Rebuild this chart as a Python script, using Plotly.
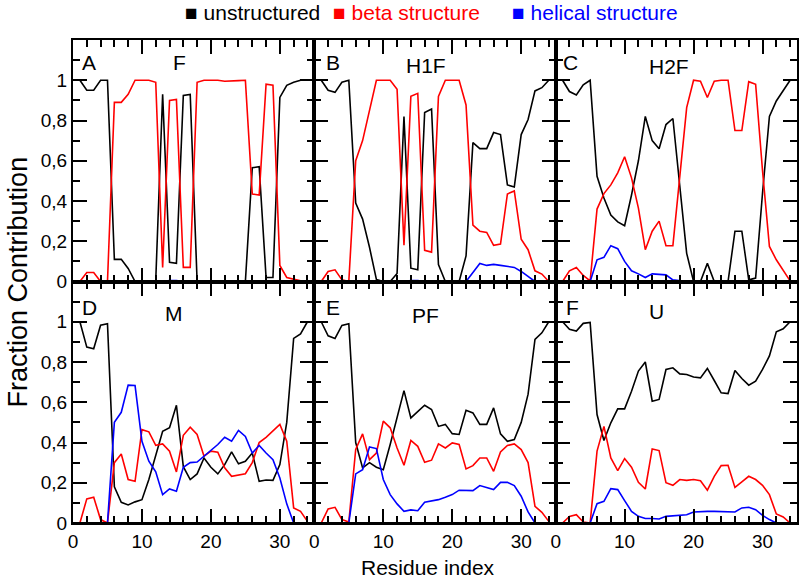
import plotly.graph_objects as go
from plotly.subplots import make_subplots

residues = list(range(1, 35))

panel_letters = ["A", "B", "C", "D", "E", "F"]
panel_titles = ["F", "H1F", "H2F", "M", "PF", "U"]
series_names = ["unstructured", "beta structure", "helical structure"]
series_colors = ["#000000", "#ff0000", "#0000ff"]

y_tickvals = [0, 0.2, 0.4, 0.6, 0.8, 1.0]
y_ticktext = ["0", "0,2", "0,4", "0,6", "0,8", "1"]
x_tickvals = [0, 10, 20, 30]
x_ticktext = ["0", "10", "20", "30"]

# Panel A : F
F_unstructured = [1.0, 0.95, 0.95, 1.0, 1.0, 0.11, 0.11, 0.065, 0.0, 0.0, 0.0, 0.005, 0.93, 0.095, 0.09, 0.925, 0.93,
                  0.0, 0.0, 0.0, 0.003, 0.0, 0.0, 0.0, 0.0, 0.565, 0.57, 0.02, 0.02, 0.915, 0.975, 0.99, 1.0, 1.0]
F_beta = [0.0, 0.045, 0.045, 0.0, 0.0, 0.89, 0.89, 0.93, 1.0, 1.0, 1.0, 0.99, 0.07, 0.90, 0.905, 0.07, 0.07,
          0.99, 1.0, 1.0, 1.0, 0.995, 0.998, 0.998, 1.0, 0.435, 0.43, 0.98, 0.975, 0.08, 0.02, 0.013, 0.003, 0.0]
F_helical = [0, 0, 0, 0, 0, 0, 0, 0, 0, 0, 0, 0, 0, 0.005, 0.005, 0, 0,
             0, 0, 0, 0, 0, 0, 0, 0, 0, 0, 0, 0, 0, 0, 0, 0, 0]

# Panel B : H1F
H1F_unstructured = [1.0, 0.95, 0.94, 0.99, 1.0, 0.39, 0.31, 0.17, 0.01, 0.0, 0.0, 0.04, 0.82, 0.066, 0.058, 0.84, 0.857,
                    0.084, 0.0, 0.0, 0.0, 0.127, 0.69, 0.66, 0.66, 0.74, 0.73, 0.48, 0.47, 0.73, 0.805, 0.947, 0.963, 1.0]
H1F_beta = [0.0, 0.05, 0.058, 0.008, 0.0, 0.6, 0.70, 0.855, 1.0, 1.0, 1.0, 0.955, 0.18, 0.92, 0.935, 0.155, 0.146,
            0.92, 1.0, 1.0, 1.0, 0.877, 0.28, 0.25, 0.244, 0.18, 0.186, 0.435, 0.45, 0.21, 0.158, 0.053, 0.037, 0.0]
H1F_helical = [0, 0, 0, 0, 0, 0, 0, 0, 0, 0, 0, 0, 0, 0.005, 0.005, 0, 0,
               0, 0, 0, 0, 0, 0.045, 0.09, 0.08, 0.085, 0.08, 0.076, 0.07, 0.05, 0.025, 0, 0, 0]

# Panel C : H2F
H2F_unstructured = [1.0, 0.944, 0.927, 0.977, 1.0, 0.523, 0.415, 0.33, 0.296, 0.277, 0.43, 0.60, 0.82, 0.70, 0.66, 0.78, 0.81,
                    0.48, 0.14, 0.0, 0.0, 0.09, 0.0, 0.0, 0.0, 0.25, 0.25, 0.008, 0.017, 0.44, 0.82, 0.897, 0.947, 1.0]
H2F_beta = [0.0, 0.053, 0.07, 0.03, 0.003, 0.36, 0.437, 0.48, 0.54, 0.62, 0.515, 0.365, 0.158, 0.25, 0.3, 0.178, 0.178,
            0.52, 0.864, 1.0, 0.995, 0.914, 0.995, 1.0, 1.0, 0.75, 0.75, 0.993, 0.98, 0.55, 0.174, 0.108, 0.053, 0.003]
H2F_helical = [0, 0, 0, 0, 0, 0.108, 0.12, 0.178, 0.163, 0.1, 0.053, 0.038, 0.02, 0.038, 0.037, 0.033, 0.008,
               0.003, 0, 0, 0, 0, 0.003, 0.003, 0.003, 0, 0, 0, 0, 0, 0, 0, 0, 0]

# Panel D : M
M_unstructured = [1.0, 0.874, 0.866, 0.983, 0.99, 0.18, 0.103, 0.09, 0.105, 0.116, 0.216, 0.34, 0.456, 0.473, 0.585, 0.28, 0.216,
                  0.244, 0.323, 0.277, 0.244, 0.29, 0.353, 0.294, 0.307, 0.348, 0.207, 0.214, 0.212, 0.29, 0.5, 0.917, 0.94, 1.0]
M_beta = [0.0, 0.12, 0.128, 0.017, 0.0, 0.3, 0.343, 0.216, 0.207, 0.464, 0.453, 0.386, 0.393, 0.357, 0.254, 0.436, 0.476,
          0.44, 0.332, 0.357, 0.352, 0.274, 0.232, 0.24, 0.245, 0.3, 0.4, 0.426, 0.456, 0.49, 0.406, 0.075, 0.058, 0.008]
M_helical = [0, 0, 0, 0, 0, 0.5, 0.55, 0.685, 0.683, 0.406, 0.307, 0.254, 0.141, 0.169, 0.158, 0.277, 0.3,
             0.303, 0.332, 0.357, 0.39, 0.426, 0.406, 0.46, 0.43, 0.348, 0.385, 0.348, 0.315, 0.224, 0.095, 0, 0, 0]

# Panel E : PF
PF_unstructured = [1.0, 0.93, 0.917, 0.982, 0.99, 0.4, 0.274, 0.3, 0.277, 0.265, 0.39, 0.53, 0.658, 0.522, 0.556, 0.585, 0.564,
                   0.48, 0.49, 0.444, 0.44, 0.56, 0.547, 0.49, 0.49, 0.572, 0.443, 0.406, 0.415, 0.5, 0.64, 0.912, 0.945, 1.0]
PF_beta = [0.0, 0.07, 0.078, 0.017, 0.005, 0.365, 0.443, 0.315, 0.348, 0.506, 0.473, 0.373, 0.287, 0.41, 0.381, 0.302, 0.312,
           0.393, 0.373, 0.398, 0.39, 0.269, 0.285, 0.323, 0.323, 0.257, 0.353, 0.385, 0.393, 0.365, 0.3, 0.083, 0.053, 0.008]
PF_helical = [0, 0, 0, 0, 0, 0.244, 0.265, 0.378, 0.37, 0.216, 0.141, 0.095, 0.058, 0.065, 0.061, 0.103, 0.108,
              0.116, 0.128, 0.141, 0.163, 0.163, 0.161, 0.186, 0.177, 0.166, 0.202, 0.202, 0.186, 0.133, 0.055, 0, 0, 0]

# Panel F : U
U_unstructured = [1.0, 0.962, 0.954, 0.992, 0.997, 0.539, 0.41, 0.498, 0.567, 0.567, 0.655, 0.755, 0.8, 0.605, 0.614, 0.763, 0.771,
                  0.741, 0.738, 0.725, 0.721, 0.768, 0.708, 0.647, 0.643, 0.758, 0.718, 0.685, 0.705, 0.763, 0.83, 0.95, 0.965, 1.0]
U_beta = [0.0, 0.033, 0.041, 0.005, 0.0, 0.357, 0.48, 0.323, 0.26, 0.32, 0.277, 0.202, 0.169, 0.368, 0.36, 0.2, 0.187,
          0.216, 0.212, 0.216, 0.21, 0.163, 0.232, 0.285, 0.287, 0.177, 0.204, 0.232, 0.216, 0.187, 0.141, 0.045, 0.03, 0.0]
U_helical = [0, 0, 0, 0, 0, 0.096, 0.108, 0.171, 0.166, 0.111, 0.058, 0.033, 0.022, 0.022, 0.02, 0.033, 0.035,
             0.038, 0.041, 0.055, 0.058, 0.058, 0.058, 0.058, 0.058, 0.055, 0.075, 0.078, 0.066, 0.038, 0.017, 0, 0, 0]

panels = [
    (F_unstructured, F_beta, F_helical),
    (H1F_unstructured, H1F_beta, H1F_helical),
    (H2F_unstructured, H2F_beta, H2F_helical),
    (M_unstructured, M_beta, M_helical),
    (PF_unstructured, PF_beta, PF_helical),
    (U_unstructured, U_beta, U_helical),
]

FONT = "Liberation Sans, Arial, sans-serif"

fig = make_subplots(rows=2, cols=3, shared_xaxes=False, shared_yaxes=False,
                    horizontal_spacing=0, vertical_spacing=0)

for i, series in enumerate(panels):
    r, c = i // 3 + 1, i % 3 + 1
    for vals, name, col in zip(series, series_names, series_colors):
        fig.add_trace(go.Scatter(x=residues, y=vals, mode="lines", name=name,
                                 line=dict(color=col, width=1.6), showlegend=False),
                      row=r, col=c)

axis_common = dict(showline=True, linecolor="black", linewidth=2, mirror="allticks",
                   ticks="inside", tickcolor="black", tickwidth=1.5, ticklen=14,
                   showgrid=False, zeroline=False,
                   tickfont=dict(family=FONT, size=19, color="black"))

shapes = []
for i in range(6):
    r, c = i // 3 + 1, i % 3 + 1
    fig.update_xaxes(range=[0, 35], tickvals=x_tickvals, ticktext=x_ticktext,
                     showticklabels=(r == 2),
                     minor=dict(ticks="inside", dtick=2, tick0=0, ticklen=7, tickwidth=1.5, tickcolor="black"),
                     **axis_common, row=r, col=c)
    fig.update_yaxes(range=[0, 1.2], tickvals=y_tickvals, ticktext=y_ticktext,
                     showticklabels=(c == 1),
                     minor=dict(ticks="inside", dtick=0.1, tick0=0, ticklen=7, tickwidth=1.5, tickcolor="black"),
                     **axis_common, row=r, col=c)
    xr = "x" if i == 0 else f"x{i+1}"
    yr = "y" if i == 0 else f"y{i+1}"
    # bottom frame line drawn over the data so that zero-valued segments sit under it
    shapes.append(dict(type="line", xref=f"{xr} domain", yref=f"{yr} domain", x0=0, x1=1, y0=0, y1=0,
                       line=dict(color="black", width=2), layer="above"))

letter_pos = [(2.3, 1.09), (2.7, 1.09), (2.2, 1.09), (2.46, 1.07), (2.65, 1.07), (2.46, 1.07)]
title_pos = [(15.4, 1.09), (16.2, 1.075), (16.4, 1.07), (14.7, 1.04), (16.05, 1.03), (14.6, 1.05)]
annotations = []
for i in range(6):
    xr = "x" if i == 0 else f"x{i+1}"
    yr = "y" if i == 0 else f"y{i+1}"
    annotations.append(dict(x=letter_pos[i][0], y=letter_pos[i][1], xref=xr, yref=yr,
                            text=panel_letters[i], showarrow=False,
                            font=dict(family=FONT, size=21, color="black")))
    annotations.append(dict(x=title_pos[i][0], y=title_pos[i][1], xref=xr, yref=yr,
                            text=panel_titles[i], showarrow=False,
                            font=dict(family=FONT, size=21, color="black")))

# legend as coloured text entries
legend_x = [0.1517, 0.357, 0.603]
for name, col, lx in zip(series_names, series_colors, legend_x):
    annotations.append(dict(x=lx, y=1.056, xref="paper", yref="paper", xanchor="left", yanchor="middle",
                            text="■ " + name, showarrow=False,
                            font=dict(family=FONT, size=21, color=col)))

annotations.append(dict(x=-0.076, y=0.5, xref="paper", yref="paper", text="Fraction Contribution",
                        textangle=-90, showarrow=False, xanchor="center", yanchor="middle",
                        font=dict(family=FONT, size=27, color="black")))
annotations.append(dict(x=0.49, y=-0.093, xref="paper", yref="paper", text="Residue index",
                        showarrow=False, xanchor="center", yanchor="middle",
                        font=dict(family=FONT, size=21, color="black")))

fig.update_layout(width=800, height=587, margin=dict(l=73, r=1, t=40, b=64),
                  paper_bgcolor="white", plot_bgcolor="white", separators=",.",
                  showlegend=False, annotations=annotations, shapes=shapes)

fig.write_html("out.html", config={"displayModeBar": False},
               post_script="document.body.style.margin='0';")
